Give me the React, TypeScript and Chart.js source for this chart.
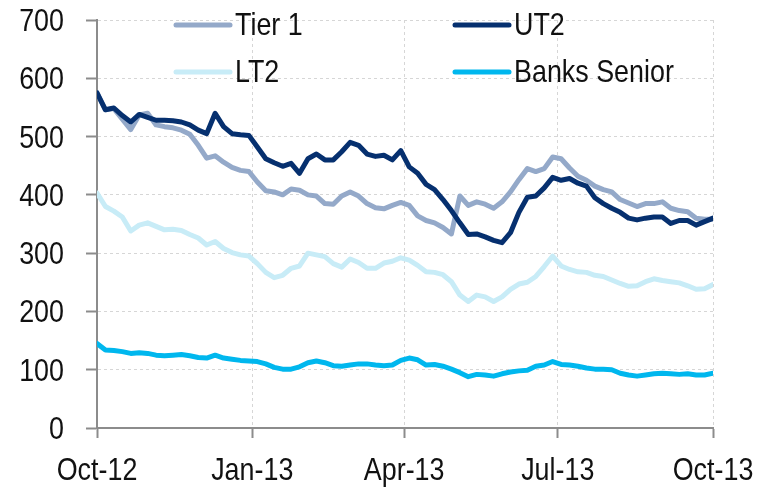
import { useEffect, useRef } from "react";
import { Chart, registerables } from "chart.js";

Chart.register(...registerables);

// Days since 1 Oct 2012, sampled every 5 days
const days: number[] = Array.from({ length: 74 }, (_, i) => i * 5);

const tickDays = [0, 92, 182, 273, 365];
const tickLabels = ["Oct-12", "Jan-13", "Apr-13", "Jul-13", "Oct-13"];

const tier1 = [
  575, 546, 548, 530, 512, 537, 540, 520, 517, 515,
  511, 504, 485, 463, 467, 456, 447, 442, 440, 422,
  407, 405, 400, 410, 408, 400, 398, 385, 384, 398,
  405, 398, 385, 378, 376, 382, 387, 382, 364, 356,
  352, 344, 333, 398, 382, 388, 384, 377, 388, 405,
  426, 445, 440, 445, 465, 462, 446, 432, 425, 415,
  409, 405, 392, 386, 380, 385, 385, 388, 377, 373,
  371, 360, 358, 358,
];

const ut2 = [
  575, 546, 549, 536, 525, 538, 533, 528, 528, 527,
  525, 520, 511, 505, 540, 517, 505, 503, 502, 482,
  462, 455, 449, 454, 437, 462, 470, 460, 460, 474,
  490, 485, 470, 466, 468, 460, 476, 448, 437, 418,
  409, 392, 373, 352, 332, 333, 328, 322, 318, 335,
  370, 396, 398, 412, 430, 425, 428, 420, 415, 395,
  385, 377, 370, 360, 357, 360, 362, 362, 351, 356,
  356, 348, 354, 360,
];

const lt2 = [
  403, 380, 372, 362, 338, 348, 352, 346, 340, 341,
  339, 332, 326, 314, 320, 308, 301, 297, 295, 282,
  267, 258, 262, 274, 278, 300, 297, 294, 282, 276,
  290, 284, 274, 274, 283, 286, 292, 288, 279, 268,
  267, 263, 251, 228, 217, 228, 225, 217, 225, 238,
  247, 250, 260, 277, 295, 278, 272, 268, 267, 262,
  260, 254, 248, 243, 244, 251, 256, 253, 251, 249,
  244, 238, 239, 246,
];

const banksSenior = [
  145, 134, 133, 131, 128, 129, 128, 125, 124, 125,
  126, 124, 121, 120, 125, 120, 118, 116, 115, 114,
  110, 104, 101, 101, 105, 112, 115, 112, 107, 106,
  108, 110, 110, 108, 107, 108, 116, 120, 117, 108,
  109, 106, 101, 95, 88, 92, 91, 89, 93, 96,
  98, 99, 106, 108, 114, 109, 108, 106, 103, 101,
  101, 100, 94, 91, 89, 91, 93, 94, 93, 92,
  93, 91, 91, 94,
];

const seriesNames = ["Tier 1", "UT2", "LT2", "Banks Senior"];
const seriesColors = ["#94A9C9", "#06306F", "#C8ECF7", "#00B7EE"];

const FONT = "32px 'Liberation Sans', Arial, sans-serif";
const SX = 0.84; // horizontal condensing of the text
const TEXT_COLOR = "#111";
const AXIS_COLOR = "#8C8C8C";
const GRID_COLOR = "#D6D6D6";

const toPts = (vals: number[]) => vals.map((v, i) => ({ x: days[i], y: v }));

function drawText(ctx: CanvasRenderingContext2D, text: string, x: number, y: number, align: CanvasTextAlign) {
  ctx.save();
  ctx.translate(x, y);
  ctx.scale(SX, 1);
  ctx.font = FONT;
  ctx.fillStyle = TEXT_COLOR;
  ctx.textAlign = align;
  ctx.textBaseline = "alphabetic";
  ctx.fillText(text, 0, 0);
  ctx.restore();
}

const textPlugin = {
  id: "textPlugin",
  afterDraw(chart: any) {
    const { ctx, chartArea, scales } = chart;
    // y tick labels
    scales.y.ticks.forEach((t: any) => {
      const py = scales.y.getPixelForValue(t.value);
      drawText(ctx, String(t.value), chartArea.left - 33, py + 11, "right");
    });
    // x tick labels
    tickDays.forEach((d, i) => {
      const px = scales.x.getPixelForValue(d);
      drawText(ctx, tickLabels[i], px, chartArea.bottom + 52, "center");
    });
    // legend
    const positions = [
      { x: chartArea.left + 79, y: chartArea.top + 5 },
      { x: chartArea.left + 358, y: chartArea.top + 5 },
      { x: chartArea.left + 79, y: chartArea.top + 52 },
      { x: chartArea.left + 358, y: chartArea.top + 52 },
    ];
    seriesNames.forEach((name, i) => {
      const p = positions[i];
      ctx.save();
      ctx.beginPath();
      ctx.lineCap = "round";
      ctx.lineWidth = 5;
      ctx.strokeStyle = seriesColors[i];
      ctx.moveTo(p.x, p.y);
      ctx.lineTo(p.x + 54, p.y);
      ctx.stroke();
      ctx.restore();
      drawText(ctx, name, p.x + 59, p.y + 10, "left");
    });
  },
};

export default function App() {
  const ref = useRef<HTMLCanvasElement | null>(null);

  useEffect(() => {
    if (!ref.current) return;
    const mk = (idx: number, vals: number[]) => ({
      label: seriesNames[idx],
      data: toPts(vals),
      borderColor: seriesColors[idx],
      backgroundColor: seriesColors[idx],
      borderWidth: 5,
      pointRadius: 0,
      tension: 0,
      borderJoinStyle: "round" as const,
      borderCapStyle: "round" as const,
      fill: false,
    });
    const chart = new Chart(ref.current, {
      type: "line",
      data: {
        datasets: [
          mk(3, banksSenior),
          mk(2, lt2),
          mk(1, ut2),
          mk(0, tier1),
        ],
      },
      options: {
        animation: false,
        responsive: false,
        devicePixelRatio: 1,
        layout: { padding: { top: 20, right: 62, left: 0, bottom: 0 } },
        plugins: { legend: { display: false }, tooltip: { enabled: false } },
        scales: {
          x: {
            type: "linear",
            min: 0,
            max: 365,
            afterBuildTicks: (scale: any) => {
              scale.ticks = tickDays.map((v) => ({ value: v }));
            },
            afterFit: (scale: any) => {
              scale.height = 60;
            },
            ticks: { display: false, autoSkip: false, maxRotation: 0 },
            grid: {
              color: GRID_COLOR,
              lineWidth: 1,
              tickLength: 10,
              tickColor: AXIS_COLOR,
              tickWidth: 2,
              tickBorderDash: [],
            },
            border: { color: AXIS_COLOR, width: 2, dash: [3, 3] },
          },
          y: {
            min: 0,
            max: 700,
            afterFit: (scale: any) => {
              scale.width = 97;
            },
            ticks: { display: false, stepSize: 100 },
            grid: {
              color: GRID_COLOR,
              lineWidth: 1,
              tickLength: 11,
              tickColor: AXIS_COLOR,
              tickWidth: 2,
              tickBorderDash: [],
            },
            border: { color: AXIS_COLOR, width: 2, dash: [3, 3] },
          },
        },
      },
      plugins: [textPlugin],
    });
    return () => chart.destroy();
  }, []);

  return (
    <div style={{ position: "absolute", left: 0, top: 0, width: 775, height: 488 }}>
      <canvas ref={ref} width={775} height={488} />
    </div>
  );
}
